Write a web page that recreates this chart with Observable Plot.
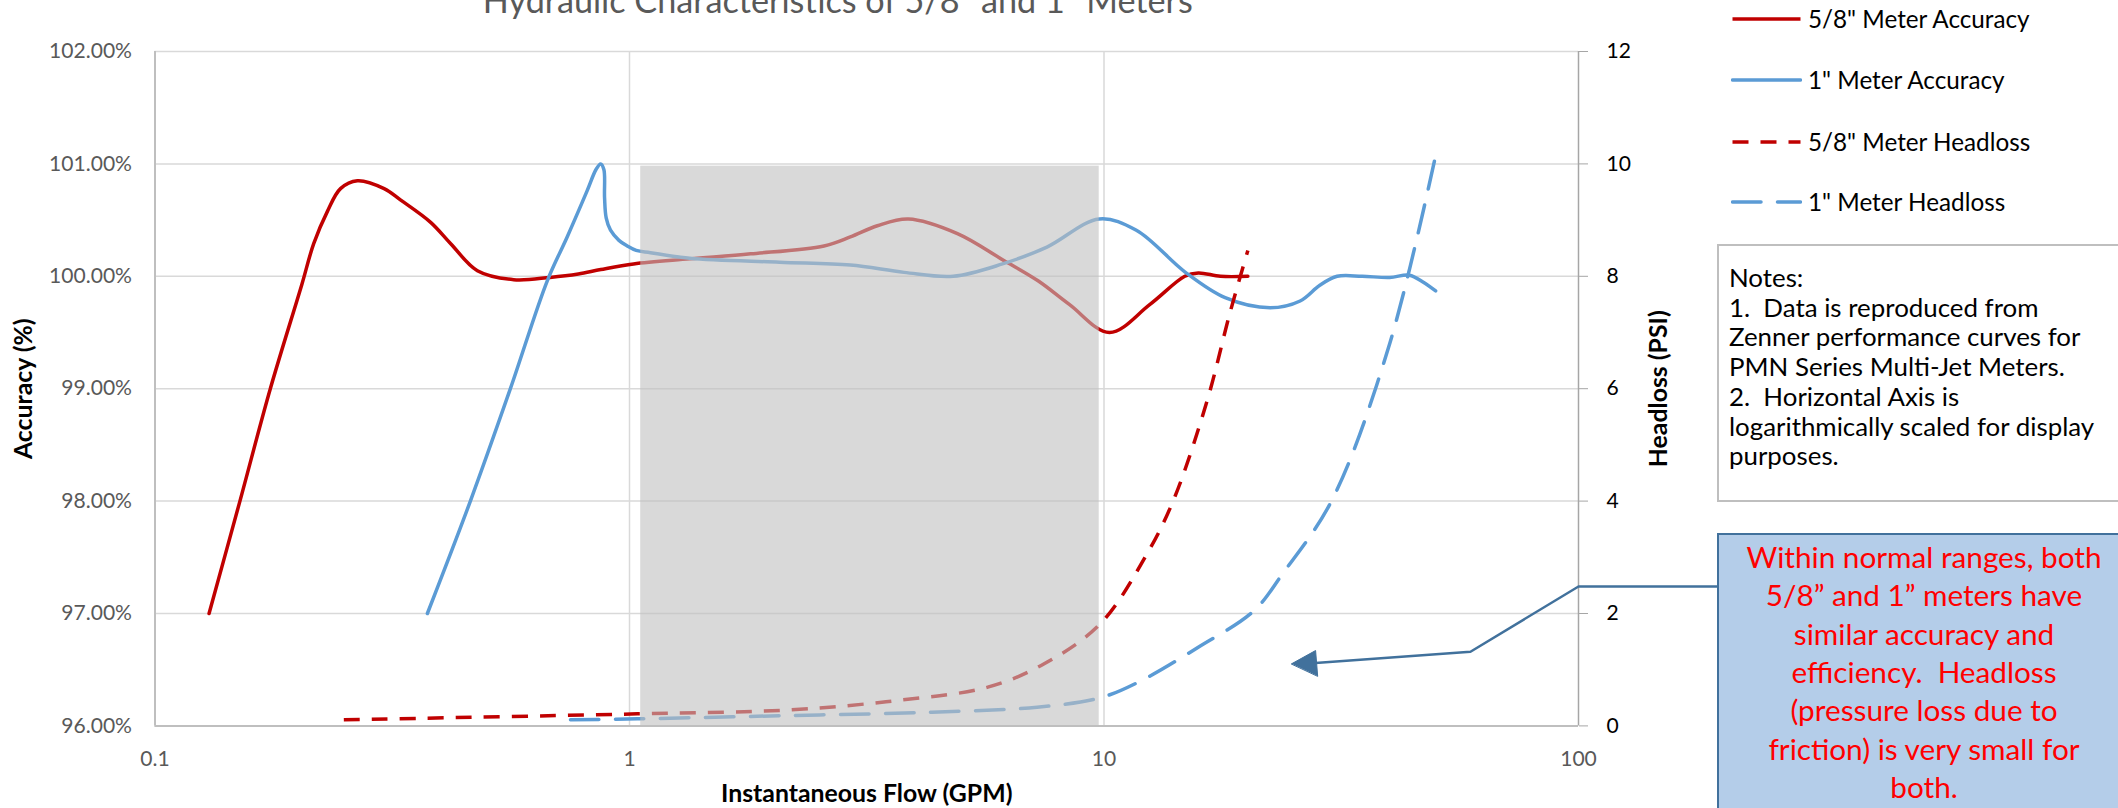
<!DOCTYPE html>
<html><head><meta charset="utf-8">
<script src="https://cdn.jsdelivr.net/npm/d3@7"></script>
<script src="https://cdn.jsdelivr.net/npm/@observablehq/plot@0.6"></script>
<style>
html,body{margin:0;padding:0;background:#fff;}
#wrap{position:relative;width:2118px;height:808px;overflow:hidden;font-family:Lato,sans-serif;}
.abs{position:absolute;white-space:pre;}
</style></head>
<body><div id="wrap"></div>
<script>
// ---------- data ----------
const chartTitle = "Hydraulic Characteristics of 5/8\" and 1\" Meters";
const xTitle = "Instantaneous Flow (GPM)";
const yTitleLeft = "Accuracy (%)";
const yTitleRight = "Headloss (PSI)";

const xTicks = [0.1, 1, 10, 100];
const accTicks = [96, 97, 98, 99, 100, 101, 102];
const psiTicks = [0, 2, 4, 6, 8, 10, 12];

// 5/8" meter accuracy
const flow58Acc = [0.13,0.151,0.175,0.204,0.216,0.231,0.246,0.267,0.304,0.329,0.381,0.42,0.478,0.57,0.68,0.78,0.87,1.02,1.34,1.8,2.57,2.92,3.33,3.87,4.91,6.1,7.26,8.45,10.27,12.5,14.8,15.8,17.6,20.1];
const acc58 = [97.0,98.0,99.0,99.93,100.29,100.58,100.78,100.85,100.78,100.68,100.48,100.29,100.05,99.97,99.99,100.02,100.06,100.11,100.155,100.2,100.27,100.35,100.45,100.51,100.38,100.15,99.96,99.75,99.5,99.75,100.0,100.03,100.0,100.0];

// 1" meter accuracy
const flow1Acc = [0.375,0.462,0.561,0.671,0.739,0.814,0.85,0.869,0.883,0.886,0.893,0.912,0.95,0.989,1.033,1.107,1.34,2.07,2.92,3.79,4.81,6.11,7.58,9.77,11.7,14.8,18.0,22.4,25.9,28.5,31,35,40,44,47,50];
const acc1 = [97.0,98.0,99.0,99.96,100.35,100.76,100.95,101.0,100.95,100.7,100.52,100.41,100.32,100.27,100.23,100.21,100.16,100.125,100.1,100.035,100.0,100.11,100.26,100.51,100.41,100.04,99.81,99.72,99.78,99.92,100.0,100.0,99.99,100.01,99.95,99.87];

// 5/8" meter headloss (PSI)
const flow58Head = [0.25,1.04,2.19,3.66,5.69,7.48,9.82,12.3,14.0,16.5,18.4,20.1];
const head58 = [0.108,0.215,0.286,0.452,0.689,1.105,1.816,3.05,4.01,5.79,7.33,8.46];

// 1" meter headloss (PSI)
const flow1Head = [0.751,1.04,2.19,4.34,7.23,9.82,12.0,15.8,20.7,23.8,30.2,40,50];
const head1 = [0.108,0.126,0.185,0.244,0.333,0.5,0.808,1.4,2.05,2.71,4.01,6.8,10.15];

// shaded "normal range" band
const shadeFlow = [1.056, 9.77];
const shadeAcc = [96, 100.98];

// callout connector (flow, PSI)
const linkFlow = [197, 100, 59.2, 27.9];
const linkPsi = [2.48, 2.48, 1.32, 1.12];
const headFlow = [24.85, 27.92, 28.2];
const headPsi = [1.105, 1.341, 0.888];

const legendItems = ["5/8\" Meter Accuracy", "1\" Meter Accuracy", "5/8\" Meter Headloss", "1\" Meter Headloss"];
const noteLines = ["Notes:", "1.  Data is reproduced from", "Zenner performance curves for", "PMN Series Multi-Jet Meters.", "2.  Horizontal Axis is", "logarithmically scaled for display", "purposes."];
const calloutLines = ["Within normal ranges, both", "5/8\u201d and 1\u201d meters have", "similar accuracy and", "efficiency.  Headloss", "(pressure loss due to", "friction) is very small for", "both."];

// ---------- helpers ----------
const RED = "#C00000", BLUE = "#5B9BD5", LINK = "#41719C";
const toAcc = psi => 96 + psi / 2;   // secondary axis: 0..12 PSI on 96..102 %
const ctx = document.createElement("canvas").getContext("2d");
function fit(text, target, weight = "normal") {
  ctx.font = `${weight} 100px Lato`;
  return 100 * target / ctx.measureText(text).width;
}
const fsTick = fit("102.00%", 83);
const fsAxisTitle = fit(xTitle, 292, "bold");
const fsTitle = fit(chartTitle, 711);
const fsLegend = fit(legendItems[0], 223);
const fsNotes = fit(noteLines[2], 352);
const fsCallout = fit(calloutLines[0], 355);

const rows58 = flow58Acc.map((f, i) => ({flow: f, acc: acc58[i]}));
const rows1 = flow1Acc.map((f, i) => ({flow: f, acc: acc1[i]}));
const hrows58 = flow58Head.map((f, i) => ({flow: f, psi: head58[i]}));
const hrows1 = flow1Head.map((f, i) => ({flow: f, psi: head1[i]}));
const linkRows = linkFlow.map((f, i) => ({flow: f, psi: linkPsi[i]}));
const headRows = headFlow.map((f, i) => ({flow: f, psi: headPsi[i]}));

const W = 2118, H = 808;
const mL = 154.5, mR = W - 1578, mT = 51, mB = H - 725.4;

const chart = Plot.plot({
  width: W, height: H,
  marginLeft: mL, marginRight: mR, marginTop: mT, marginBottom: mB,
  x: {type: "log", domain: [0.1, 100]},
  y: {domain: [96, 102]},
  style: {fontFamily: "Lato, sans-serif", background: "transparent", overflow: "visible"},
  marks: [
    Plot.gridY(accTicks, {stroke: "#D9D9D9", strokeOpacity: 1, strokeWidth: 1.5}),
    Plot.gridX([1, 10], {stroke: "#D9D9D9", strokeOpacity: 1, strokeWidth: 1.5}),
    Plot.ruleX([0.1], {stroke: "#BFBFBF", strokeWidth: 2}),
    Plot.ruleY([96], {stroke: "#BFBFBF", strokeWidth: 2}),
    Plot.ruleX([100], {stroke: "#A6A6A6", strokeWidth: 1.5}),
    Plot.line(rows58, {x: "flow", y: "acc", stroke: RED, strokeWidth: 3.5, curve: "catmull-rom"}),
    Plot.line(rows1, {x: "flow", y: "acc", stroke: BLUE, strokeWidth: 3.5, curve: "catmull-rom"}),
    Plot.line(hrows58, {x: "flow", y: d => toAcc(d.psi), stroke: RED, strokeWidth: 3.5, strokeDasharray: "16,12", strokeLinecap: "butt", curve: "catmull-rom"}),
    Plot.line(hrows1, {x: "flow", y: d => toAcc(d.psi), stroke: BLUE, strokeWidth: 3.5, strokeDasharray: "28.5,16.5", strokeLinecap: "round", curve: "catmull-rom"}),
    Plot.rect([0], {x1: () => shadeFlow[0], x2: () => shadeFlow[1], y1: () => shadeAcc[0], y2: () => shadeAcc[1], fill: "#C0C0C0", fillOpacity: 0.6}),
    Plot.line(linkRows, {x: "flow", y: d => toAcc(d.psi), stroke: LINK, strokeWidth: 2.5, curve: "linear"}),
    Plot.line(headRows, {x: "flow", y: d => toAcc(d.psi), stroke: LINK, fill: LINK, strokeWidth: 1, curve: "linear-closed"}),
    Plot.axisY(accTicks, {anchor: "left", tickSize: 0, tickPadding: 23, tickFormat: d => d.toFixed(2) + "%", fontSize: fsTick, fill: "#595959", label: null}),
    Plot.axisY(accTicks, {anchor: "right", tickSize: 9, tickPadding: 19, tickFormat: d => String(psiTicks[accTicks.indexOf(d)]), fontSize: fsTick, fill: "#000", stroke: "#A6A6A6", label: null}),
    Plot.axisX(xTicks, {anchor: "bottom", tickSize: 0, tickPadding: 25, tickFormat: d => String(d), fontSize: fsTick, fill: "#595959", label: null}),
    Plot.text([xTitle], {text: d => d, frameAnchor: "bottom", dy: 68.6, lineAnchor: "middle", textAnchor: "middle", fontSize: fsAxisTitle, fontWeight: "bold", fill: "#000"}),
    Plot.text([yTitleLeft], {text: d => d, frameAnchor: "left", dx: -130.5, rotate: -90, lineAnchor: "middle", textAnchor: "middle", fontSize: fsAxisTitle, fontWeight: "bold", fill: "#000"}),
    Plot.text([yTitleRight], {text: d => d, frameAnchor: "right", dx: 81, rotate: -90, lineAnchor: "middle", textAnchor: "middle", fontSize: fsAxisTitle, fontWeight: "bold", fill: "#000"}),
    Plot.text([chartTitle], {text: d => d, frameAnchor: "top", dx: -29, dy: -39, lineAnchor: "bottom", textAnchor: "middle", fontSize: fsTitle, fill: "#595959"})
  ]
});
chart.style.position = "absolute";
chart.style.left = "0px";
chart.style.top = "0px";
const wrap = document.getElementById("wrap");
wrap.appendChild(chart);

// ---------- legend ----------
const legendStyles = [
  {stroke: RED, dash: null, cap: "butt"},
  {stroke: BLUE, dash: null, cap: "round"},
  {stroke: RED, dash: "16,12", cap: "butt"},
  {stroke: BLUE, dash: "28.5,16.5", cap: "round"}
];
const legendY = [19, 80, 141.5, 202];
legendItems.forEach((name, i) => {
  const row = document.createElement("div");
  row.className = "abs";
  Object.assign(row.style, {left: "1731px", top: (legendY[i] - 20) + "px", height: "40px", display: "flex", alignItems: "center"});
  const s = legendStyles[i];
  row.innerHTML = `<svg width="71" height="40" style="display:block"><line x1="1.5" y1="20" x2="69.5" y2="20" stroke="${s.stroke}" stroke-width="3.5" stroke-linecap="${s.cap}" ${s.dash ? `stroke-dasharray="${s.dash}"` : ""}/></svg>`;
  const label = document.createElement("span");
  label.textContent = name;
  Object.assign(label.style, {marginLeft: "6px", fontSize: fsLegend + "px", color: "#000", lineHeight: "40px"});
  row.appendChild(label);
  wrap.appendChild(row);
});

// ---------- notes box ----------
const notes = document.createElement("div");
notes.className = "abs";
Object.assign(notes.style, {left: "1717px", top: "244px", width: "440px", height: "258px", border: "2px solid #BFBFBF", boxSizing: "border-box", background: "#fff"});
wrap.appendChild(notes);
noteLines.forEach((t, i) => {
  const d = document.createElement("div");
  d.className = "abs";
  d.textContent = t;
  const cy = 277 + i * 29.7;
  Object.assign(d.style, {left: "1729px", top: (cy - 15) + "px", height: "30px", lineHeight: "30px", fontSize: fsNotes + "px", color: "#000"});
  wrap.appendChild(d);
});

// ---------- callout ----------
const callout = document.createElement("div");
callout.className = "abs";
Object.assign(callout.style, {left: "1717px", top: "533px", width: "414px", height: "320px", border: "2.5px solid " + LINK, boxSizing: "border-box", background: "#B4CDE9"});
wrap.appendChild(callout);
calloutLines.forEach((t, i) => {
  const d = document.createElement("div");
  d.className = "abs";
  d.textContent = t;
  const cy = 557 + i * 38.3;
  Object.assign(d.style, {left: "1717px", width: "414px", textAlign: "center", top: (cy - 19) + "px", height: "38px", lineHeight: "38px", fontSize: fsCallout + "px", color: "#FF0000"});
  wrap.appendChild(d);
});
</script>
</body></html>
